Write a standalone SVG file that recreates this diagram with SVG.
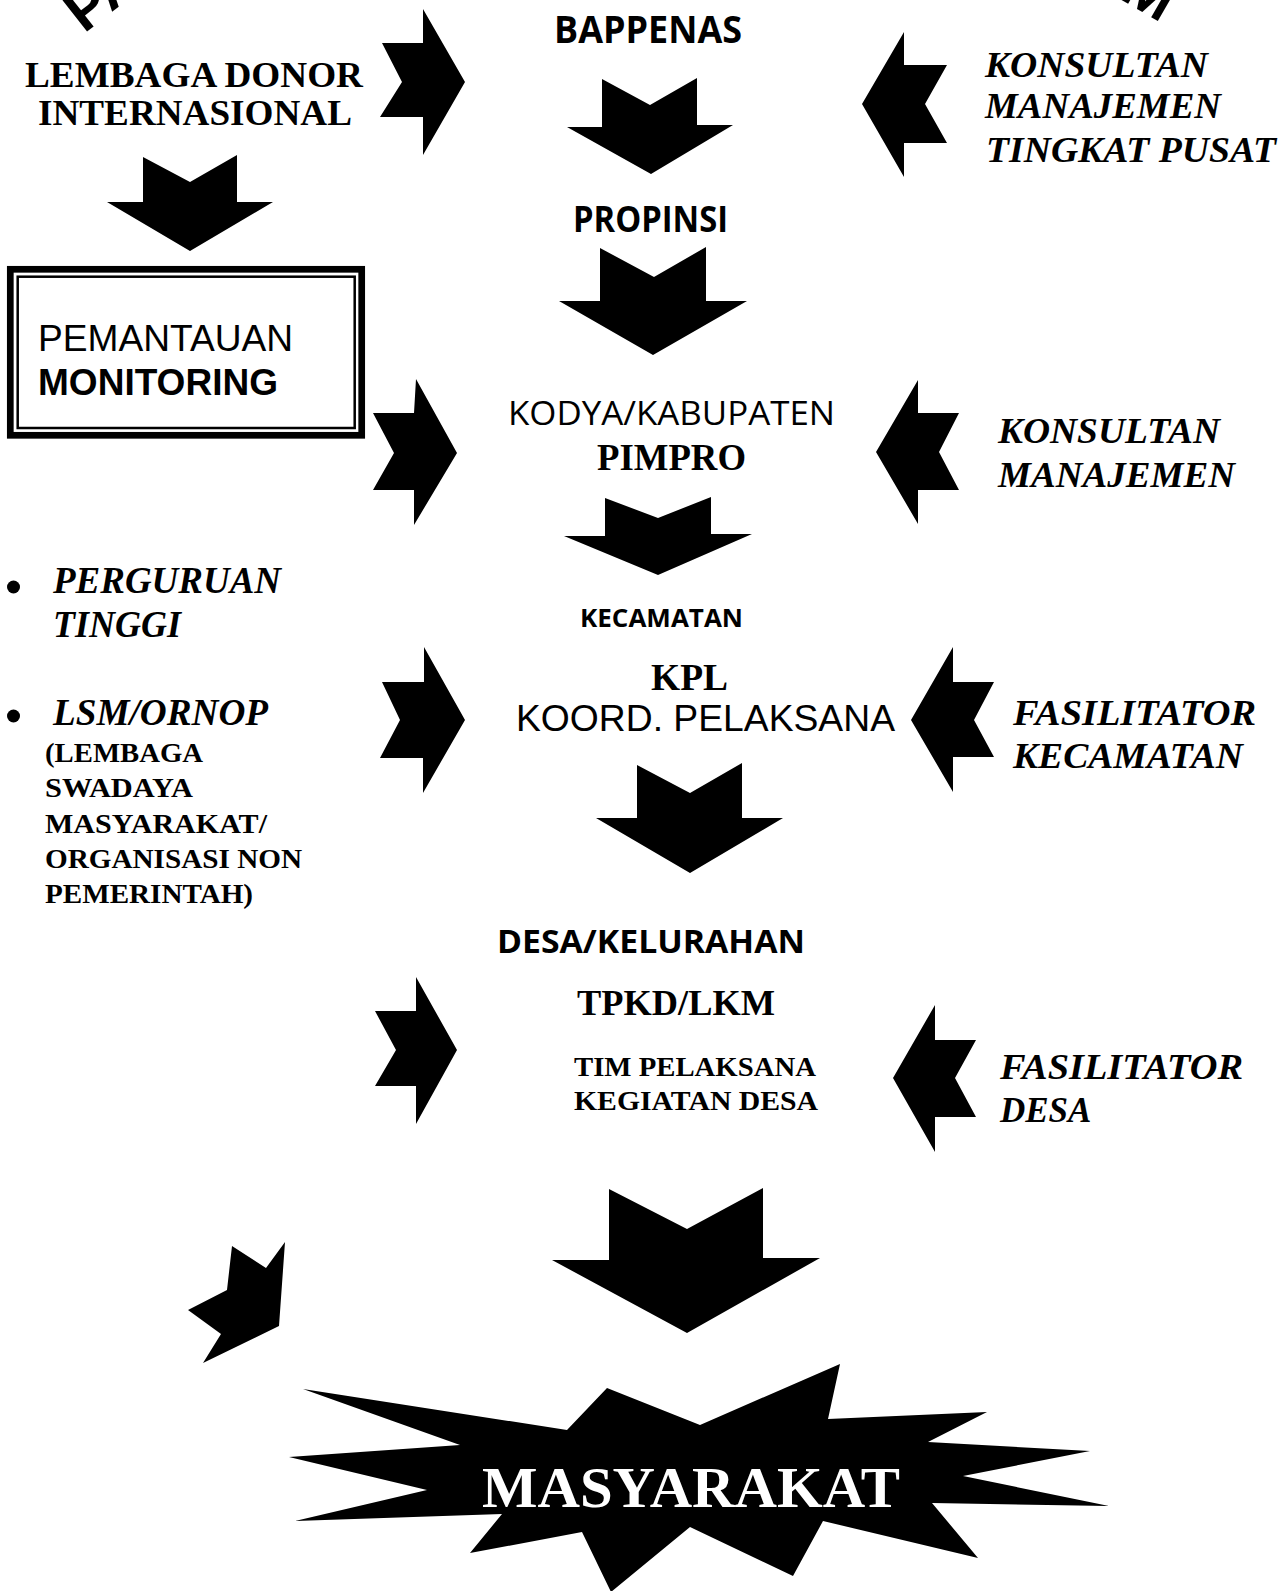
<svg xmlns="http://www.w3.org/2000/svg" width="1288" height="1591" viewBox="0 0 1288 1591">
<style>
.arr{fill:#000}
.sb{font-family:"Liberation Serif","Times New Roman",serif;font-weight:bold;fill:#000}
.sbi{font-family:"Liberation Serif","Times New Roman",serif;font-weight:bold;font-style:italic;fill:#000}
.sa{font-family:"Liberation Sans",Arial,sans-serif;fill:#000}
.hu{font-family:"Open Sans","DejaVu Sans",sans-serif;fill:#000}
.hb{font-family:"Open Sans","DejaVu Sans",sans-serif;font-weight:bold;fill:#000}
.wa{font-family:"Liberation Sans",Arial,sans-serif;font-weight:900;fill:#000}
</style>
<rect width="1288" height="1591" fill="#fff"/>

<g id="wordart">
<text class="wa" font-size="58" transform="translate(84,34) rotate(-38)">PA</text>
<text class="wa" font-size="60" transform="translate(1118,-2) rotate(30)">M</text>
</g>

<g id="connectors">
<polygon class="arr" points="423,9 465,82 423,155 423,117 380,117 402,82 382,43 423,43"/>
<polygon class="arr" points="602,79 650,105 697,78 697,125 733,125 651,174 567,127 602,127"/>
<polygon class="arr" points="904,32 862,104 904,177 904,143 947,143 925,104 947,65 904,65"/>
<polygon class="arr" points="143,157 190,182 237,155 237,202 273,202 190,251 107,202 143,202"/>
<polygon class="arr" points="600,248 654,277 706,247 706,301 747,301 653,355 559,301 600,301"/>
<polygon class="arr" points="416,379 457,453 414,525 414,490 373,490 394,453 373,413 414,413"/>
<polygon class="arr" points="918,380 876,452 918,524 918,490 959,490 939,452 959,413 918,413"/>
<polygon class="arr" points="605,498 658,518 711,497 711,534 752,534 658,575 564,536 605,536"/>
<polygon class="arr" points="424,647 465,720 423,793 423,758 380,758 400,720 382,682 424,682"/>
<polygon class="arr" points="953,647 911,720 953,792 953,757 994,757 974,720 994,682 953,682"/>
<polygon class="arr" points="637,765 690,793 742,763 742,818 783,818 690,873 596,818 637,818"/>
<polygon class="arr" points="416,977 457,1050 416,1124 416,1086 375,1086 396,1050 375,1011 416,1011"/>
<polygon class="arr" points="935,1005 893,1078 935,1152 935,1117 976,1117 955,1078 976,1040 935,1040"/>
<polygon class="arr" points="609,1189 687,1229 763,1188 763,1258 820,1258 687,1333 552,1260 609,1260"/>
<polygon class="arr" points="232,1246 266,1268 285,1242 279,1326 203,1363 221,1334 188,1310 227,1290"/>
</g>

<g id="node-lembaga">
<text class="sb" font-size="36" x="25" y="87" textLength="338" lengthAdjust="spacingAndGlyphs">LEMBAGA DONOR</text>
<text class="sb" font-size="36" x="38" y="125" textLength="314" lengthAdjust="spacingAndGlyphs">INTERNASIONAL</text>
</g>

<g id="node-bappenas">
<text class="hb" font-size="38" x="554" y="43" textLength="188" lengthAdjust="spacingAndGlyphs">BAPPENAS</text>
</g>

<g id="node-konsultan-pusat">
<text class="sbi" font-size="36" x="985" y="77" textLength="223" lengthAdjust="spacingAndGlyphs">KONSULTAN</text>
<text class="sbi" font-size="36" x="985" y="118" textLength="236" lengthAdjust="spacingAndGlyphs">MANAJEMEN</text>
<text class="sbi" font-size="36" x="986" y="162" textLength="290" lengthAdjust="spacingAndGlyphs">TINGKAT PUSAT</text>
</g>

<g id="node-propinsi">
<text class="hb" font-size="35" x="573" y="232" textLength="155" lengthAdjust="spacingAndGlyphs">PROPINSI</text>
</g>

<g id="node-monitoring">
<rect x="10.3" y="269.3" width="351.4" height="166" fill="none" stroke="#000" stroke-width="6.7"/>
<rect x="17.7" y="276.7" width="337" height="151.3" fill="none" stroke="#000" stroke-width="2.5"/>
<text class="sa" font-size="36" x="38" y="351" textLength="255" lengthAdjust="spacingAndGlyphs">PEMANTAUAN</text>
<text class="sa" font-size="37" font-weight="bold" x="38" y="395" textLength="240" lengthAdjust="spacingAndGlyphs">MONITORING</text>
</g>

<g id="node-kodya">
<text class="hu" font-size="32" x="508" y="425" textLength="327" lengthAdjust="spacingAndGlyphs">KODYA/KABUPATEN</text>
<text class="sb" font-size="37" x="597" y="470" textLength="149" lengthAdjust="spacingAndGlyphs">PIMPRO</text>
</g>

<g id="node-konsultan">
<text class="sbi" font-size="35" x="998" y="443" textLength="222" lengthAdjust="spacingAndGlyphs">KONSULTAN</text>
<text class="sbi" font-size="35" x="998" y="487" textLength="237" lengthAdjust="spacingAndGlyphs">MANAJEMEN</text>
</g>

<g id="node-perguruan">
<circle cx="13.5" cy="587" r="6.5"/>
<text class="sbi" font-size="37" x="53" y="593" textLength="228" lengthAdjust="spacingAndGlyphs">PERGURUAN</text>
<text class="sbi" font-size="37" x="53" y="637" textLength="128" lengthAdjust="spacingAndGlyphs">TINGGI</text>
</g>

<g id="node-lsm">
<circle cx="13.5" cy="716" r="6.5"/>
<text class="sbi" font-size="37" x="53" y="725" textLength="215" lengthAdjust="spacingAndGlyphs">LSM/ORNOP</text>
<text class="sb" font-size="27" x="45" y="762" textLength="158" lengthAdjust="spacingAndGlyphs">(LEMBAGA</text>
<text class="sb" font-size="27" x="45" y="797" textLength="148" lengthAdjust="spacingAndGlyphs">SWADAYA</text>
<text class="sb" font-size="27" x="45" y="833" textLength="222" lengthAdjust="spacingAndGlyphs">MASYARAKAT/</text>
<text class="sb" font-size="27" x="45" y="868" textLength="257" lengthAdjust="spacingAndGlyphs">ORGANISASI NON</text>
<text class="sb" font-size="27" x="45" y="903" textLength="208" lengthAdjust="spacingAndGlyphs">PEMERINTAH)</text>
</g>

<g id="node-kecamatan">
<text class="hb" font-size="25" x="580" y="627" textLength="163" lengthAdjust="spacingAndGlyphs">KECAMATAN</text>
<text class="sb" font-size="37" x="651" y="690" textLength="77" lengthAdjust="spacingAndGlyphs">KPL</text>
<text class="sa" font-size="37" x="516" y="731" textLength="379" lengthAdjust="spacingAndGlyphs">KOORD. PELAKSANA</text>
</g>

<g id="node-fasilitator-kecamatan">
<text class="sbi" font-size="35" x="1013" y="725" textLength="243" lengthAdjust="spacingAndGlyphs">FASILITATOR</text>
<text class="sbi" font-size="35" x="1013" y="768" textLength="230" lengthAdjust="spacingAndGlyphs">KECAMATAN</text>
</g>

<g id="node-desa">
<text class="hb" font-size="33" x="497" y="953" textLength="308" lengthAdjust="spacingAndGlyphs">DESA/KELURAHAN</text>
<text class="sb" font-size="36" x="577" y="1015" textLength="198" lengthAdjust="spacingAndGlyphs">TPKD/LKM</text>
<text class="sb" font-size="27" x="574" y="1076" textLength="242" lengthAdjust="spacingAndGlyphs">TIM PELAKSANA</text>
<text class="sb" font-size="27" x="574" y="1110" textLength="244" lengthAdjust="spacingAndGlyphs">KEGIATAN DESA</text>
</g>

<g id="node-fasilitator-desa">
<text class="sbi" font-size="35" x="1000" y="1079" textLength="243" lengthAdjust="spacingAndGlyphs">FASILITATOR</text>
<text class="sbi" font-size="35" x="1000" y="1122">DESA</text>
</g>

<g id="node-masyarakat">
<polygon class="arr" points="303,1389 567,1430 607,1388 700,1425 840,1364 828,1419 987,1412 928,1442 1090,1451 963,1476 1109,1506 932,1503 978,1558 823,1521 793,1576 690,1527 611,1592 582,1532 470,1553 502,1514 295,1521 427,1490 289,1457 460,1445"/>
<text class="sb" font-size="58" x="482" y="1507" style="fill:#fff" textLength="418" lengthAdjust="spacingAndGlyphs">MASYARAKAT</text>
</g>
</svg>
